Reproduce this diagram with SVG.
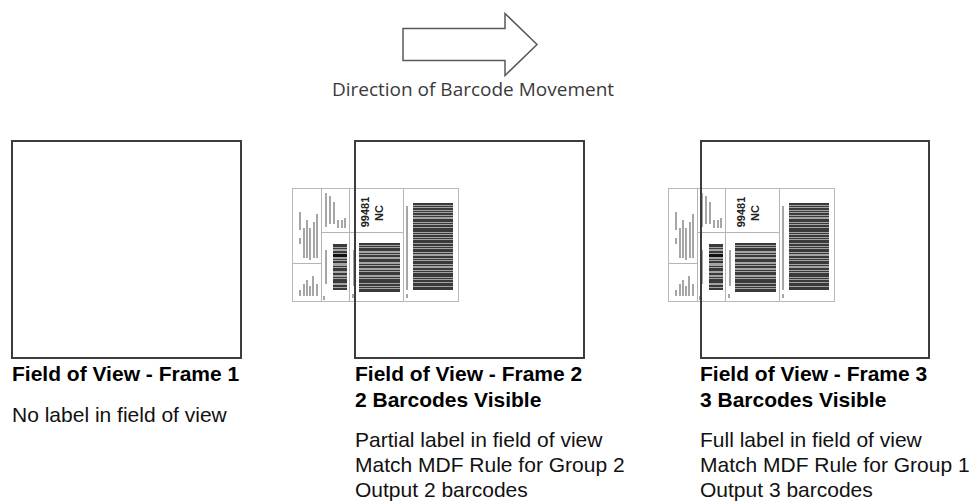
<svg xmlns="http://www.w3.org/2000/svg" xmlns:xlink="http://www.w3.org/1999/xlink" width="970" height="502" viewBox="0 0 970 502">
<style>
  .fov { fill: none; stroke: #3c3c3c; stroke-width: 2; }
  .arrow { fill: #fff; stroke: #595959; stroke-width: 1.5; stroke-linejoin: miter; }
  .cap { font-family: "Open Sans", "Noto Sans", sans-serif; font-size: 19px; fill: #3a3a3a; text-anchor: middle; }
  .title { font-family: "Liberation Sans", Arial, sans-serif; font-size: 21px; font-weight: bold; fill: #000; }
  .body { font-family: "Liberation Sans", Arial, sans-serif; font-size: 21px; fill: #111; }
  .lbl-line { fill: none; stroke: #b4b4b4; stroke-width: 1; }
  .tiny { fill: #a6a6a6; }
  .bg { fill: #a4a4a4; }
  .bar { fill: #3a3a3a; }
  .zip { font-family: "Liberation Sans", Arial, sans-serif; font-size: 11px; font-weight: bold; fill: #222; text-anchor: middle; }
</style>
<defs>
  <g id="shipLabel">
    <rect x="0.5" y="0.5" width="166" height="113" fill="#fff" stroke="#b8b8b8"/>
    <path class="lbl-line" d="M29.5 0.5 V113.5 M29.5 44.5 H111.5 M57.5 0.5 V113.5 M111.5 0.5 V113.5 M0.5 75.5 H29.5"/>
    <!-- illegible small print, upper left -->
    <rect class="tiny" x="7" y="24" width="2" height="18"/>
    <rect class="tiny" x="7" y="50" width="2" height="6"/>
    <rect class="tiny" x="11" y="40" width="2" height="30"/>
    <rect class="tiny" x="14" y="32" width="2" height="38"/>
    <rect class="tiny" x="17" y="40" width="2" height="32"/>
    <rect class="tiny" x="21" y="34" width="2" height="36"/>
    <rect class="tiny" x="24" y="26" width="2" height="44"/>
    <!-- lower left -->
    <rect class="tiny" x="7" y="102" width="2" height="6"/>
    <rect class="tiny" x="11" y="96" width="2" height="12"/>
    <rect class="tiny" x="14" y="92" width="2" height="16"/>
    <rect class="tiny" x="17" y="98" width="2" height="10"/>
    <rect class="tiny" x="20" y="88" width="2" height="20"/>
    <rect class="tiny" x="24" y="96" width="2" height="12"/>
    <!-- section 2 top -->
    <rect class="tiny" x="33" y="5" width="2" height="34"/>
    <rect class="tiny" x="37" y="8" width="2" height="28"/>
    <rect class="tiny" x="41" y="14" width="2" height="22"/>
    <rect class="tiny" x="45" y="32" width="2" height="8"/>
    <rect class="tiny" x="49" y="32" width="2" height="8"/>
    <rect class="tiny" x="52" y="30" width="2" height="10"/>
    <!-- section 2 bottom -->
    <rect class="tiny" x="33" y="62" width="2" height="34"/>
    <rect class="bg" x="41" y="56" width="14" height="46"/>
    <g class="bar">
      <rect x="41" y="56" width="14" height="3"/><rect x="41" y="60" width="14" height="1"/>
      <rect x="41" y="63" width="14" height="2"/><rect x="41" y="66" width="14" height="3" fill="#111"/>
      <rect x="41" y="71" width="14" height="1"/><rect x="41" y="73" width="14" height="2"/>
      <rect x="41" y="78" width="14" height="1"/><rect x="41" y="80" width="14" height="3"/>
      <rect x="41" y="85" width="14" height="2"/><rect x="41" y="89" width="14" height="1"/>
      <rect x="41" y="91" width="14" height="4"/><rect x="41" y="97" width="14" height="2"/>
      <rect x="41" y="100" width="14" height="2"/>
    </g>
    <rect class="tiny" x="31" y="108" width="2" height="4"/>
    <!-- section 3 top: zip -->
    <text class="zip" transform="translate(77,24) rotate(-90)">99481</text>
    <text class="zip" transform="translate(91,25) rotate(-90)">NC</text>
    <!-- section 3 bottom -->
    <rect class="tiny" x="61" y="62" width="2" height="36"/>
    <rect class="tiny" x="60" y="106" width="2" height="4"/>
    <rect class="bg" x="67" y="55" width="41" height="49"/>
    <g class="bar">
      <rect x="67" y="55" width="41" height="2"/><rect x="67" y="58" width="41" height="1"/>
      <rect x="67" y="60" width="41" height="3"/><rect x="67" y="65" width="41" height="1"/>
      <rect x="67" y="67" width="41" height="2"/><rect x="67" y="71" width="41" height="3"/>
      <rect x="67" y="76" width="41" height="1"/><rect x="67" y="78" width="41" height="2"/>
      <rect x="67" y="82" width="41" height="1"/><rect x="67" y="84" width="41" height="3"/>
      <rect x="67" y="89" width="41" height="1"/><rect x="67" y="91" width="41" height="4"/>
      <rect x="67" y="96" width="41" height="2"/><rect x="67" y="99" width="41" height="1"/>
      <rect x="67" y="101" width="41" height="3"/>
    </g>
    <!-- section 4 -->
    <rect class="tiny" x="114" y="18" width="2" height="84"/>
    <rect class="tiny" x="114" y="106" width="2" height="4"/>
    <rect class="bg" x="121" y="15" width="40" height="87"/>
    <g class="bar">
      <rect x="121" y="15" width="40" height="2"/><rect x="121" y="18" width="40" height="1"/>
      <rect x="121" y="20" width="40" height="2"/><rect x="121" y="23" width="40" height="1"/>
      <rect x="121" y="25" width="40" height="2"/><rect x="121" y="28" width="40" height="1"/>
      <rect x="121" y="31" width="40" height="3"/><rect x="121" y="35" width="40" height="1"/>
      <rect x="121" y="37" width="40" height="2"/><rect x="121" y="40" width="40" height="4"/>
      <rect x="121" y="45" width="40" height="1"/><rect x="121" y="47" width="40" height="2"/>
      <rect x="121" y="50" width="40" height="1"/><rect x="121" y="52" width="40" height="3"/>
      <rect x="121" y="56" width="40" height="2"/><rect x="121" y="59" width="40" height="1"/>
      <rect x="121" y="61" width="40" height="3"/><rect x="121" y="65" width="40" height="1"/>
      <rect x="121" y="68" width="40" height="2"/><rect x="121" y="71" width="40" height="1"/>
      <rect x="121" y="73" width="40" height="3"/><rect x="121" y="77" width="40" height="1"/>
      <rect x="121" y="80" width="40" height="2"/><rect x="121" y="83" width="40" height="1"/>
      <rect x="121" y="85" width="40" height="4"/><rect x="121" y="90" width="40" height="1"/>
      <rect x="121" y="92" width="40" height="2"/><rect x="121" y="95" width="40" height="3"/>
      <rect x="121" y="99" width="40" height="3"/>
    </g>
  </g>
</defs>

<g id="direction">
  <polygon class="arrow" points="403,28.5 505,28.5 505,13.5 537,44.5 505,75.5 505,60.5 403,60.5"/>
  <text class="cap" x="473" y="95.5">Direction of Barcode Movement</text>
</g>

<g id="frame1">
  <rect class="fov" x="12" y="141" width="229" height="217"/>
  <text class="title" x="12" y="381">Field of View - Frame 1</text>
  <text class="body" x="12" y="422">No label in field of view</text>
</g>

<g id="frame2">
  <use id="label2" xlink:href="#shipLabel" href="#shipLabel" x="292" y="188"/>
  <rect class="fov" x="355" y="141" width="229" height="217"/>
  <text class="title" x="355" y="381">Field of View - Frame 2</text>
  <text class="title" x="355" y="407">2 Barcodes Visible</text>
  <text class="body" x="355" y="447">Partial label in field of view</text>
  <text class="body" x="355" y="472">Match MDF Rule for Group 2</text>
  <text class="body" x="355" y="497">Output 2 barcodes</text>
</g>

<g id="frame3">
  <use id="label3" xlink:href="#shipLabel" href="#shipLabel" x="668" y="188"/>
  <rect class="fov" x="701" y="141" width="228" height="217"/>
  <text class="title" x="700" y="381">Field of View - Frame 3</text>
  <text class="title" x="700" y="407">3 Barcodes Visible</text>
  <text class="body" x="700" y="447">Full label in field of view</text>
  <text class="body" x="700" y="472">Match MDF Rule for Group 1</text>
  <text class="body" x="700" y="497">Output 3 barcodes</text>
</g>

<g id="connectors"></g>
</svg>
